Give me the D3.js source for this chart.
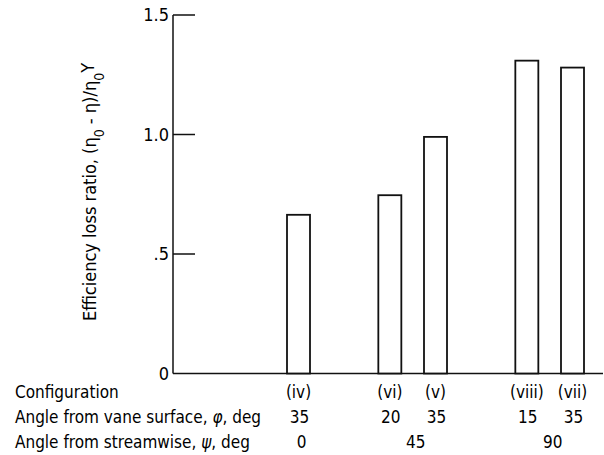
<!DOCTYPE html>
<html>
<head>
<meta charset="utf-8">
<script src="https://cdn.jsdelivr.net/npm/d3@7"></script>
<style>
  body { margin: 0; background: #fff; }
  text { font-family: "DejaVu Sans", sans-serif; font-stretch: condensed; fill: #000; }
</style>
</head>
<body>
<div id="chart"></div>
<script>
// values
var configs = ["(iv)", "(vi)", "(v)", "(viii)", "(vii)"];
var vaneAngle = ["35", "20", "35", "15", "35"];
var streamAngle = ["0", "45", "45", "90", "90"];
var lossRatio = [0.664, 0.746, 0.99, 1.309, 1.28];
var yTicks = [0, 0.5, 1.0, 1.5];
var yTickLabels = ["0", ".5", "1.0", "1.5"];
var rowLabels = ["Configuration", "Angle from vane surface, ", "Angle from streamwise, "];

var width = 604, height = 455;

var svg = d3.select("#chart").append("svg")
    .attr("width", width)
    .attr("height", height);

// slot = bar index + group index (one empty slot between stream-angle groups)
var groups = Array.from(new Set(streamAngle));
var slots = streamAngle.map(function(s, i) { return i + groups.indexOf(s); });

var x = d3.scaleLinear().domain([0, 6]).range([298.5, 572.5]);
var y = d3.scaleLinear().domain([0, 1.5]).range([373.5, 15]);
var barW = 23;
var axisX = 173;
var fs = "17px";

// axes
svg.append("line")
    .attr("x1", axisX).attr("x2", axisX)
    .attr("y1", y(1.5)).attr("y2", y(0))
    .attr("stroke", "#111").attr("stroke-width", 1.5);
svg.append("line")
    .attr("x1", axisX).attr("x2", 603)
    .attr("y1", y(0)).attr("y2", y(0))
    .attr("stroke", "#111").attr("stroke-width", 1.5);

svg.selectAll(".tick").data(yTicks.slice(1)).enter()
  .append("line")
    .attr("x1", axisX).attr("x2", axisX + 22)
    .attr("y1", function(d) { return y(d); })
    .attr("y2", function(d) { return y(d); })
    .attr("stroke", "#111").attr("stroke-width", 1.5);

svg.selectAll(".ticklabel").data(yTicks).enter()
  .append("text")
    .attr("x", axisX - 4)
    .attr("y", function(d) { return y(d); })
    .attr("dy", "0.36em")
    .attr("text-anchor", "end")
    .attr("font-size", "18px")
    .text(function(d, i) { return yTickLabels[i]; });

// bars
svg.selectAll(".bar").data(lossRatio).enter()
  .append("rect")
    .attr("x", function(d, i) { return x(slots[i]) - barW / 2; })
    .attr("y", function(d) { return y(d); })
    .attr("width", barW)
    .attr("height", function(d) { return y(0) - y(d); })
    .attr("fill", "#fff")
    .attr("stroke", "#111")
    .attr("stroke-width", 1.8);

// y title
var title = svg.append("text")
    .attr("transform", "translate(96,192) rotate(-90)")
    .attr("text-anchor", "middle")
    .attr("font-size", "18px");
title.append("tspan").text("Efficiency loss ratio, (\u03b7");
title.append("tspan").attr("baseline-shift", "sub").attr("font-size", "14px").text("0");
title.append("tspan").text(" - \u03b7)/\u03b7");
title.append("tspan").attr("baseline-shift", "sub").attr("font-size", "14px").text("0");
title.append("tspan").attr("baseline-shift", "2").text("Y");

// table rows under the axis
var rowY = [397.5, 422.5, 447.5];
svg.append("text").attr("x", 15).attr("y", rowY[0]).attr("font-size", fs).text(rowLabels[0]);
var r2 = svg.append("text").attr("x", 15).attr("y", rowY[1]).attr("font-size", fs);
r2.append("tspan").text(rowLabels[1]);
r2.append("tspan").attr("font-style", "italic").text("\u03c6");
r2.append("tspan").text(", deg");
var r3 = svg.append("text").attr("x", 15).attr("y", rowY[2]).attr("font-size", fs);
r3.append("tspan").text(rowLabels[2]);
r3.append("tspan").attr("font-style", "italic").text("\u03c8");
r3.append("tspan").text(", deg");

svg.selectAll(".cfg").data(configs).enter()
  .append("text")
    .attr("x", function(d, i) { return x(slots[i]); })
    .attr("y", rowY[0])
    .attr("text-anchor", "middle")
    .attr("font-size", fs)
    .text(function(d) { return d; });

svg.selectAll(".vane").data(vaneAngle).enter()
  .append("text")
    .attr("x", function(d, i) { return x(slots[i]) + 1; })
    .attr("y", rowY[1])
    .attr("text-anchor", "middle")
    .attr("font-size", fs)
    .text(function(d) { return d; });

svg.selectAll(".stream").data(groups).enter()
  .append("text")
    .attr("x", function(g) {
      var s = slots.filter(function(v, i) { return streamAngle[i] === g; });
      return x(d3.mean(s)) + 3;
    })
    .attr("y", rowY[2])
    .attr("text-anchor", "middle")
    .attr("font-size", fs)
    .text(function(d) { return d; });
</script>
</body>
</html>
